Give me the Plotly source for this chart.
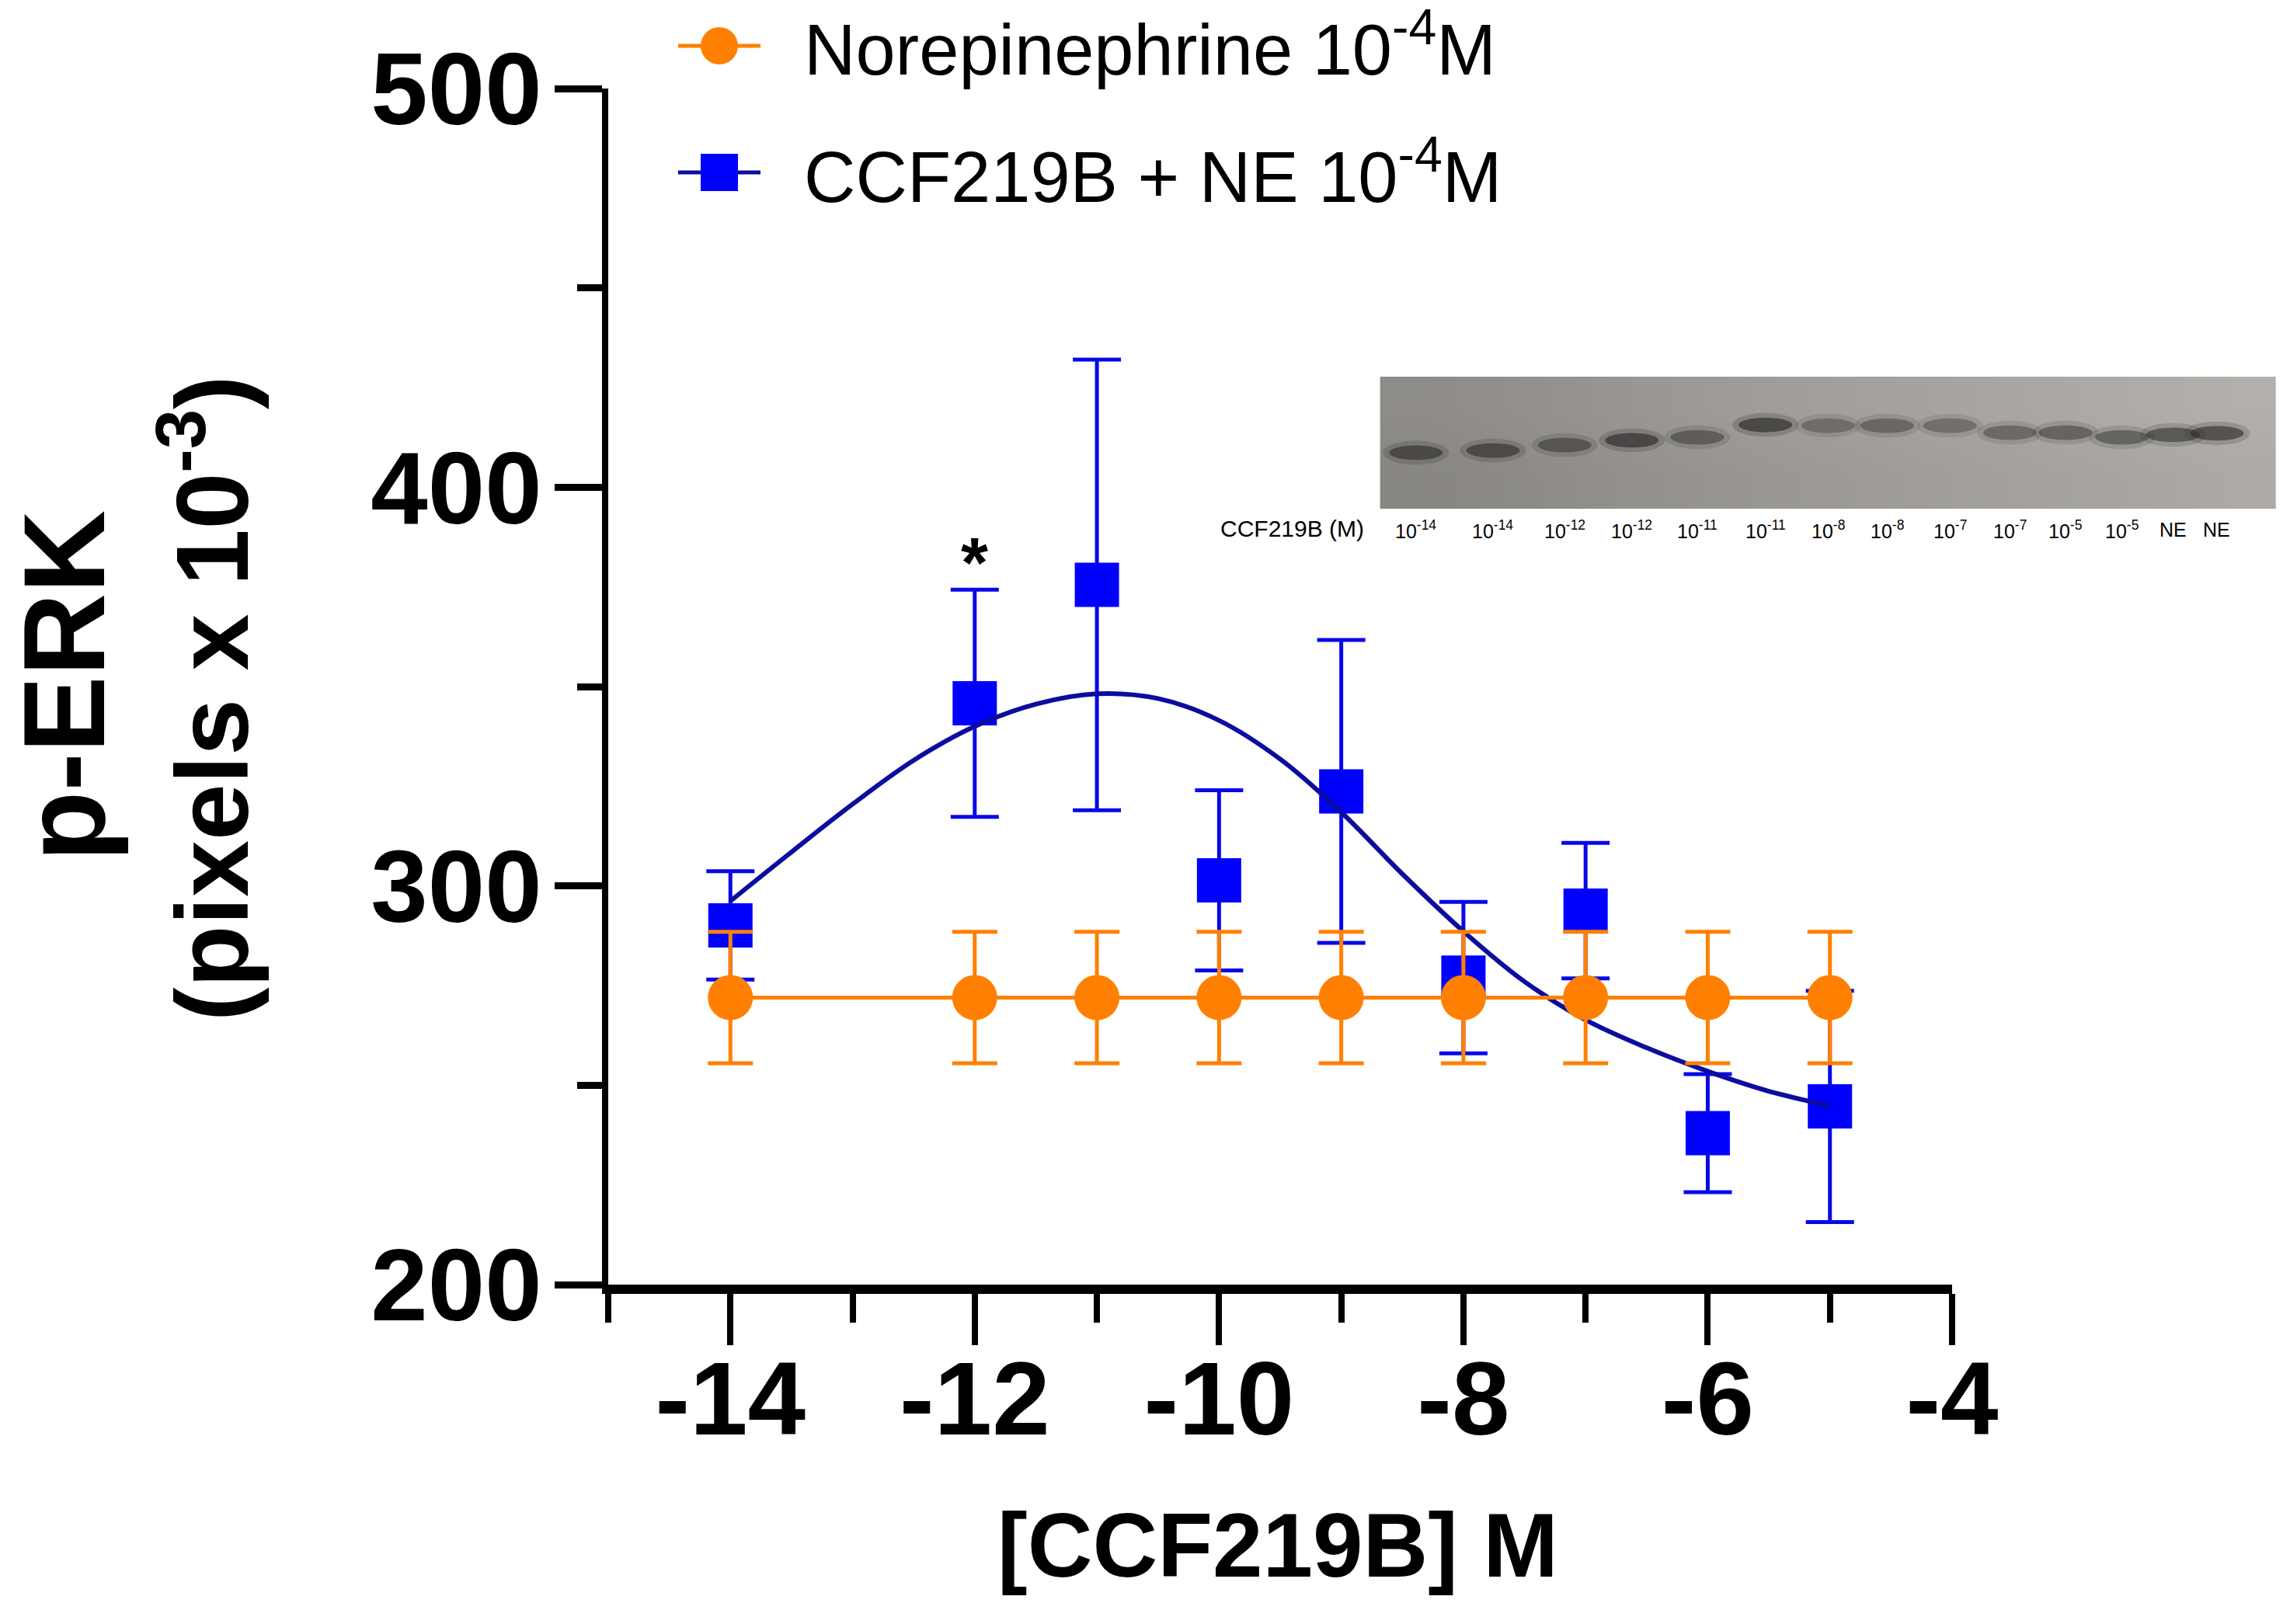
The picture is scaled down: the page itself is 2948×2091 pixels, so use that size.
import numpy as np
import plotly.graph_objects as go

# ---- data ----
log_conc = [-14, -12, -11, -10, -9, -8, -7, -6, -5]

ne_mean = [272, 272, 272, 272, 272, 272, 272, 272, 272]
ne_err = [16.5, 16.5, 16.5, 16.5, 16.5, 16.5, 16.5, 16.5, 16.5]

ccf_mean = [290.1, 345.8, 375.5, 301.4, 323.7, 277.0, 293.8, 238.0, 244.7]
ccf_err = [13.6, 28.5, 56.5, 22.6, 38.0, 19.0, 17.0, 14.8, 29.0]

# fitted curve
fit_x = [-14, -13.5, -13, -12.5, -12, -11.5, -11, -10.5, -10, -9.5,
         -9, -8.5, -8, -7.5, -7, -6.5, -6, -5.5, -5]
fit_y = [296.2, 308.5, 320.5, 331.5, 340.0, 345.6, 348.2, 347.0, 341.5, 331.8,
         318.5, 303.0, 288.6, 276.0, 266.4, 259.4, 253.5, 248.5, 244.8]

series_names = ["Norepinephrine 10<sup>-4</sup>M", "CCF219B + NE 10<sup>-4</sup>M"]

x_tick_vals = [-14, -12, -10, -8, -6, -4]
x_tick_text = ["-14", "-12", "-10", "-8", "-6", "-4"]
y_tick_vals = [200, 300, 400, 500]

star_x, star_y = -12, 381

# western blot inset
lane_labels = ["10<sup>-14</sup>", "10<sup>-14</sup>", "10<sup>-12</sup>", "10<sup>-12</sup>",
               "10<sup>-11</sup>", "10<sup>-11</sup>", "10<sup>-8</sup>", "10<sup>-8</sup>",
               "10<sup>-7</sup>", "10<sup>-7</sup>", "10<sup>-5</sup>", "10<sup>-5</sup>",
               "NE", "NE"]
lane_pos = [4.0, 12.6, 20.6, 28.1, 35.4, 43.0, 50.0, 56.6, 63.6, 70.3, 76.5, 82.8, 88.5, 93.4]
band_level = [42.4, 44.1, 48.2, 51.8, 54.1, 63.5, 62.9, 62.9, 62.9, 57.6, 57.6, 54.1, 55.9, 57.1]
band_dark = [0.6, 0.6, 0.5, 0.65, 0.45, 0.65, 0.35, 0.4, 0.35, 0.4, 0.45, 0.45, 0.55, 0.6]
blot_gray = [136, 139, 143, 147, 151, 154, 157, 160, 163, 166, 169, 172]

ORANGE = "#ff8000"
BLUE = "#0000ff"
NAVY = "#0c0c9e"
FONT = "Liberation Sans, Arial, sans-serif"

W, H = 2948, 2091
OFF = 8  # the page body margin shifts the figure by this many pixels


def px(x):
    return (x - OFF) / W


def py(y):
    return 1 - (y - OFF) / H


fig = go.Figure()

# blot background
fig.add_trace(go.Heatmap(
    z=[blot_gray, [g + 6 for g in blot_gray]],
    x=np.linspace(0, 100, len(blot_gray) + 1),
    y=[0, 50, 100],
    colorscale=[[0, "rgb(0,0,0)"], [1, "rgb(255,251,246)"]],
    zmin=0, zmax=255, zsmooth="best", showscale=False, hoverinfo="skip",
    xaxis="x2", yaxis="y2",
))

fig.add_trace(go.Scatter(
    x=log_conc, y=ccf_mean, mode="markers", name=series_names[1],
    marker=dict(symbol="square", size=57, color=BLUE, line=dict(width=0)),
    error_y=dict(type="data", array=ccf_err, color="#0808e8", thickness=5, width=31),
    showlegend=False,
))
fig.add_trace(go.Scatter(
    x=fit_x, y=fit_y, mode="lines", line=dict(color=NAVY, width=6, shape="spline"),
    showlegend=False, hoverinfo="skip",
))
fig.add_trace(go.Scatter(
    x=log_conc, y=ne_mean, mode="lines+markers", name=series_names[0],
    line=dict(color=ORANGE, width=5),
    marker=dict(symbol="circle", size=58, color=ORANGE),
    error_y=dict(type="data", array=ne_err, color=ORANGE, thickness=5, width=29),
    showlegend=False,
))

shapes = []
for xc, yc, a in zip(lane_pos, band_level, band_dark):
    shapes.append(dict(type="circle", xref="x2", yref="y2",
                       x0=xc - 3.7, x1=xc + 3.7, y0=yc - 9, y1=yc + 9,
                       fillcolor=f"rgba(50,48,46,{a * 0.35:.2f})", line=dict(width=0), layer="above"))
    shapes.append(dict(type="circle", xref="x2", yref="y2",
                       x0=xc - 3.0, x1=xc + 3.0, y0=yc - 5.5, y1=yc + 5.5,
                       fillcolor=f"rgba(45,43,41,{a:.2f})", line=dict(width=0), layer="above"))

# legend drawn by hand so the symbols keep their size
leg_x = px(926)
leg_rows = [py(59), py(222)]
leg_text_y = [py(57), py(221)]
shapes.append(dict(type="line", xref="paper", yref="paper", xsizemode="pixel", xanchor=leg_x,
                   x0=-53, x1=53, y0=leg_rows[0], y1=leg_rows[0], line=dict(color=ORANGE, width=5)))
shapes.append(dict(type="circle", xref="paper", yref="paper", xsizemode="pixel", ysizemode="pixel",
                   xanchor=leg_x, yanchor=leg_rows[0], x0=-24, x1=24, y0=-24, y1=24,
                   fillcolor=ORANGE, line=dict(width=0)))
shapes.append(dict(type="line", xref="paper", yref="paper", xsizemode="pixel", xanchor=leg_x,
                   x0=-53, x1=53, y0=leg_rows[1], y1=leg_rows[1], line=dict(color=NAVY, width=5)))
shapes.append(dict(type="rect", xref="paper", yref="paper", xsizemode="pixel", ysizemode="pixel",
                   xanchor=leg_x, yanchor=leg_rows[1], x0=-24, x1=24, y0=-24, y1=24,
                   fillcolor=BLUE, line=dict(width=0)))

annotations = []
for name, ty in zip(series_names, leg_text_y):
    annotations.append(dict(text=name, xref="paper", yref="paper", x=px(1033), y=ty,
                            xanchor="left", yanchor="middle", showarrow=False,
                            font=dict(family=FONT, size=92, color="black")))

for lab, xc in zip(lane_labels, lane_pos):
    annotations.append(dict(text=lab, xref="x2", yref="y2", x=xc, y=-16, showarrow=False,
                            xanchor="center", yanchor="middle",
                            font=dict(family=FONT, size=25, color="black")))
annotations.append(dict(text="CCF219B (M)", xref="x2", yref="y2", x=-9.8, y=-15, showarrow=False,
                        xanchor="center", yanchor="middle",
                        font=dict(family=FONT, size=30, color="black")))

annotations.append(dict(text="*", x=star_x, y=star_y, xref="x", yref="y", showarrow=False,
                        font=dict(family=FONT, size=90, color="black", weight="bold")))

annotations.append(dict(text="p-ERK", xref="paper", yref="paper", x=74 / W, y=1 - 875 / H,
                        textangle=-90, showarrow=False, xanchor="center", yanchor="middle",
                        font=dict(family=FONT, size=148, color="black", weight="bold")))
annotations.append(dict(text="(pixels x 10<sup>-3</sup>)", xref="paper", yref="paper",
                        x=256 / W, y=1 - 891 / H, textangle=-90, showarrow=False,
                        xanchor="center", yanchor="middle",
                        font=dict(family=FONT, size=131, color="black", weight="bold")))
annotations.append(dict(text="[CCF219B] M", xref="paper", yref="paper", x=1637 / W, y=1 - 1982 / H,
                        showarrow=False, xanchor="center", yanchor="middle",
                        font=dict(family=FONT, size=116, color="black", weight="bold")))

fig.update_layout(
    width=W, height=H,
    margin=dict(l=0, r=0, t=0, b=0, autoexpand=False),
    plot_bgcolor="white", paper_bgcolor="white",
    showlegend=False,
    shapes=shapes,
    annotations=annotations,
    xaxis=dict(
        domain=[px(783), px(2513)], range=[-15, -4],
        tickmode="array", tickvals=x_tick_vals, ticktext=x_tick_text,
        ticks="outside", ticklen=66, tickwidth=8, tickcolor="black",
        showline=True, linewidth=12, linecolor="black",
        showgrid=False, zeroline=False, ticklabelstandoff=-46, automargin=False,
        tickfont=dict(family=FONT, size=134, color="black", weight="bold"),
        minor=dict(tickmode="linear", tick0=-15, dtick=1, ticks="outside",
                   ticklen=37, tickwidth=8, tickcolor="black", showgrid=False),
    ),
    yaxis=dict(
        domain=[py(1654), py(114)], range=[200, 500],
        tickmode="array", tickvals=y_tick_vals,
        ticks="outside", ticklen=61, tickwidth=9, tickcolor="black",
        showline=True, linewidth=8, linecolor="black",
        showgrid=False, zeroline=False, ticklabelstandoff=-10, automargin=False,
        tickfont=dict(family=FONT, size=132, color="black", weight="bold"),
        minor=dict(tickmode="linear", tick0=200, dtick=50, ticks="outside",
                   ticklen=32, tickwidth=9, tickcolor="black", showgrid=False),
    ),
    xaxis2=dict(domain=[px(1546), px(2930)], range=[-20, 100], anchor="y2", visible=False),
    yaxis2=dict(domain=[py(706), py(485)], range=[-30, 100], anchor="x2", visible=False),
)

fig.write_html("out.html")
